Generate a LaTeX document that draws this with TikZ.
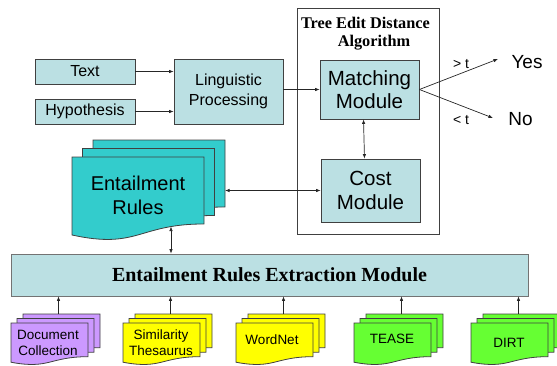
\documentclass[tikz,border=0pt]{standalone}
\usepackage{fontspec}
\setmainfont{Liberation Sans}
\newfontfamily\titlefont{Liberation Serif}
\usetikzlibrary{arrows.meta,calc}

\definecolor{boxfill}{RGB}{187,224,227}
\definecolor{boxline}{RGB}{64,64,64}
\definecolor{erfill}{RGB}{51,204,204}
\definecolor{purplefill}{RGB}{204,153,255}
\definecolor{yellowfill}{RGB}{255,255,0}
\definecolor{greenfill}{RGB}{102,255,51}

\tikzset{
  fs/.style={font=\fontsize{#1}{#1}\selectfont},
  bluebox/.style={draw=boxline, fill=boxfill, line width=0.8pt, inner sep=0pt, align=center},
  frame/.style={draw=boxline, line width=0.8pt, inner sep=0pt},
  sheetline/.style={draw=boxline, line width=0.8pt},
  sheetarea/.style={inner sep=0pt, outer sep=0pt},
  conn/.style={draw=black!85, line width=0.7pt, -{Latex[length=4.5pt,width=3.5pt]}},
  biconn/.style={draw=black!85, line width=0.7pt, {Latex[length=4.5pt,width=3.5pt]}-{Latex[length=4.5pt,width=3.5pt]}},
  sheettext/.style={align=center, inner sep=0pt},
}

% one sheet of a flowchart "document" shape: x, y (top), width, height, fill
\newcommand\docsheet[5]{%
  \filldraw[sheetline, fill=#5] (#1,#2) -- (#1+#3,#2) -- (#1+#3,#2+0.802*#4)
    .. controls (#1+0.5*#3,#2+0.802*#4) and (#1+0.5*#3,#2+1.1075*#4) ..
    (#1,#2+0.934*#4) -- cycle;}

% stack of three sheets: name, x, y, w, h, dx, dy (upwards), fill
\newcommand\docstack[8]{%
  \docsheet{#2+2*#6}{#3-2*#7}{#4}{#5}{#8}
  \docsheet{#2+#6}{#3-#7}{#4}{#5}{#8}
  \docsheet{#2}{#3}{#4}{#5}{#8}
  \path (#2+0.5*#4,#3+0.5*#5) node[sheetarea, minimum width=#4, minimum height=#5] (#1) {};
  \path (#2+2*#6+0.5*#4,#3-2*#7+0.5*#5) node[sheetarea, minimum width=#4, minimum height=#5] (#1-back) {};
}

\begin{document}
\begin{tikzpicture}[x=1pt, y=-1pt]
  \useasboundingbox (0,0) rectangle (557,365);

  % input boxes and linguistic processing
  \node[bluebox, fs=16, minimum width=100, minimum height=25] (text) at (85,71.5) {Text};
  \node[bluebox, fs=16, minimum width=100, minimum height=25] (hyp) at (85,111.5) {Hypothesis};
  \node[bluebox, minimum width=109, minimum height=65,
        font=\fontsize{16}{20}\selectfont] (lp) at (228.5,91.5) {Linguistic\\Processing};

  % tree edit distance frame
  \node[frame, minimum width=142, minimum height=226] (ted) at (368,121) {};
  \node[inner sep=0pt, font=\titlefont\bfseries\fontsize{16.3}{18}\selectfont] (tedtitle) at (365.5,23) {Tree Edit Distance};
  \node[inner sep=0pt, font=\titlefont\bfseries\fontsize{16.3}{18}\selectfont] (tedtitle2) at (374,43) {Algorithm};

  \node[bluebox, minimum width=99, minimum height=59,
        font=\fontsize{20.5}{23}\selectfont] (match) at (369.5,89.5) {Matching\\Module};
  \node[bluebox, minimum width=99, minimum height=63,
        font=\fontsize{20.5}{24}\selectfont] (cost) at (370.5,190.5) {Cost\\Module};

  % decision outputs
  \node[inner sep=0pt, fs=19] (yes) at (527,62) {Yes};
  \node[inner sep=0pt, fs=19] (no) at (520.5,119) {No};
  \coordinate (yestip) at (498,59);
  \coordinate (notip) at (493,118);
  \node[inner sep=0pt, fs=14] (gt) at (461,64) {> t};
  \node[inner sep=0pt, fs=14] (lt) at (461,120) {< t};

  % entailment rules documents
  \docstack{er}{72}{157}{132}{83.5}{10.5}{8.5}{erfill}
  \node[sheettext, font=\fontsize{20}{24}\selectfont] (ertext) at (138,195) {Entailment\\Rules};
  \coordinate (erfoot) at (171,226.5);

  % extraction module
  \node[bluebox, draw=black!55, minimum width=517, minimum height=42,
        font=\titlefont\bfseries\fontsize{20}{22}\selectfont] (ere) at (269.5,275) {Entailment Rules Extraction Module};

  % resources
  \docstack{dc}{11}{323}{77}{42}{6}{4.5}{purplefill}
  \docstack{sim}{123}{323}{77}{42}{6}{4.5}{yellowfill}
  \docstack{wn}{236}{323}{77}{42}{6}{4.5}{yellowfill}
  \docstack{tease}{354}{323}{77}{42}{6}{4.5}{greenfill}
  \docstack{dirt}{471}{323}{77}{42}{6}{4.5}{greenfill}
  \node[sheettext, font=\fontsize{13.5}{16}\selectfont] (dctext) at (48,343) {Document\\Collection};
  \node[sheettext, font=\fontsize{13.5}{16}\selectfont] (simtext) at (161,343) {Similarity\\Thesaurus};
  \node[sheettext, font=\fontsize{13.5}{16}\selectfont] (wntext) at (272,340) {WordNet};
  \node[sheettext, font=\fontsize{13.5}{16}\selectfont] (teasetext) at (392,339) {TEASE};
  \node[sheettext, font=\fontsize{13.5}{16}\selectfont] (dirttext) at (509,343) {DIRT};

  % connectors
  \draw[conn] (text.east) -- (text.east -| lp.west);
  \draw[conn] (hyp.east) -- (hyp.east -| lp.west);
  \draw[conn] (lp.east |- match.west) -- (match.west);
  \draw[conn] (match.east) -- (yestip);
  \draw[conn] (match.east) -- (notip);
  \draw[biconn] ([xshift=-6]match.south) -- ([xshift=-6]cost.north);
  \draw[biconn] (cost.west) -- (cost.west -| er-back.east);
  \draw[biconn] (erfoot) -- (erfoot |- ere.north);
  \foreach \s in {dc,sim,wn,tease,dirt}
    \draw[conn] ([xshift=-3]\s-back.north) -- ([xshift=-3]\s-back.north |- ere.south);
\end{tikzpicture}
\end{document}
